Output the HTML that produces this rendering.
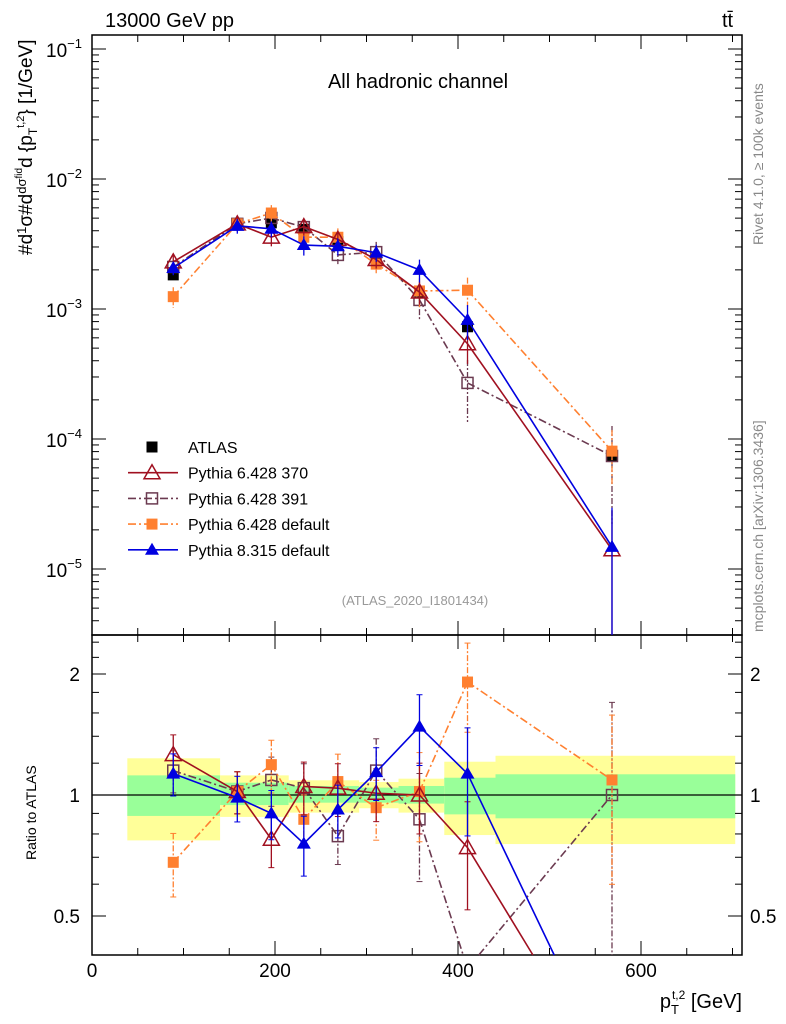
<!DOCTYPE html>
<html style="overflow:hidden;width:786px;height:1024px"><head><meta charset="utf-8"><style>
body{margin:0;background:#fff;width:786px;height:1024px;overflow:hidden}
svg{display:block;font-family:"Liberation Sans",sans-serif;overflow:hidden}
</style></head><body>
<svg id="c" width="786" height="1024" viewBox="0 0 786 1024" xmlns="http://www.w3.org/2000/svg">
<text x="105" y="27" font-size="20">13000 GeV pp</text>
<text x="722" y="27" font-size="20">tt̄</text>
<text x="418" y="88" font-size="20" text-anchor="middle">All hadronic channel</text>
<text x="415" y="605" font-size="13" fill="#999" text-anchor="middle">(ATLAS_2020_I1801434)</text>
<text transform="translate(763,245) rotate(-90)" font-size="14" fill="#888">Rivet 4.1.0, ≥ 100k events</text>
<text transform="translate(763,632) rotate(-90)" font-size="14" fill="#888">mcplots.cern.ch [arXiv:1306.3436]</text>
<text transform="translate(32,255) rotate(-90)" font-size="19">#d<tspan font-size="13" dy="-6">1</tspan><tspan dy="6">σ</tspan>#d<tspan font-size="13" dy="-6">dσ<tspan font-size="10" dy="-4">fid</tspan></tspan><tspan dy="10">d {p</tspan><tspan font-size="12" dy="5">T</tspan><tspan font-size="11" dy="-13">t,2</tspan><tspan dy="8">} [1/GeV]</tspan></text>
<text transform="translate(36,860) rotate(-90)" font-size="14">Ratio to ATLAS</text>
<text x="742" y="1008" font-size="20" text-anchor="end">p<tspan font-size="13" dy="6">T</tspan><tspan font-size="12" dy="-15" dx="-7">t,2</tspan><tspan dy="9"> [GeV]</tspan></text>
<g id="g"></g>
</svg>
<script>
const xC=[88.8,158.8,196,231.5,268.7,310.6,357.9,410.4,568.3];
const atlas=[1.83e-3,4.43e-3,4.6e-3,4.1e-3,3.3e-3,2.38e-3,1.35e-3,7.3e-4,7.4e-5];
const rP8=[1.13,0.985,0.90,0.757,0.92,1.14,1.48,1.13,0.2];
const eP8=[0.12,0.13,0.14,0.17,0.15,0.15,0.2,0.3,1.0];
const r370=[1.26,1.02,0.776,1.05,1.04,1.01,1.0,0.74,0.19];
const e370=[0.12,0.12,0.15,0.15,0.15,0.15,0.2,0.3,1.0];
const r391=[1.15,1.02,1.09,1.04,0.79,1.15,0.87,0.37,1.0];
const e391=[0.12,0.12,0.14,0.15,0.15,0.2,0.3,0.5,0.7];
const rDef=[0.68,1.02,1.19,0.87,1.08,0.93,1.02,1.91,1.09];
const eDef=[0.18,0.12,0.15,0.15,0.17,0.17,0.25,0.25,0.45];
const binEdges=[38.6,140,215,292,335,385,441,703];
const yelLo=[0.771,0.882,0.904,0.927,0.904,0.795,0.755];
const yelHi=[1.234,1.119,1.088,1.077,1.098,1.21,1.252];
const grnLo=[0.887,0.944,0.957,0.957,0.952,0.895,0.875];
const grnHi=[1.119,1.073,1.053,1.043,1.053,1.104,1.126];
const xTicks=[0,200,400,600];
const mainTicks=[-1,-2,-3,-4,-5];
const ratioTicks=[0.5,1,2];

const NS="http://www.w3.org/2000/svg",G=document.getElementById('g');
const X=v=>92+v*0.915;
const YM=v=>49+(-1-Math.log10(v))*130;
const YR=v=>795-Math.log2(v)*121;
const MT=35,MB=635,RT=635,RB=955;
function el(t,a,p){const e=document.createElementNS(NS,t);for(const k in a)e.setAttribute(k,a[k]);(p||G).appendChild(e);return e;}
function clamp(v,a,b){return Math.max(a,Math.min(b,v));}
// clip segment to y range
function clipSeg(x1,y1,x2,y2,top,bot){
 if((y1<top&&y2<top)||(y1>bot&&y2>bot))return null;
 const f=(y)=>x1+(x2-x1)*(y-y1)/(y2-y1);
 if(y1<top){x1=f(top);y1=top;}else if(y1>bot){x1=f(bot);y1=bot;}
 if(y2<top){x2=x1+(x2-x1)*(top-y1)/(y2-y1);y2=top;}else if(y2>bot){x2=x1+(x2-x1)*(bot-y1)/(y2-y1);y2=bot;}
 return [x1,y1,x2,y2];
}
for(let i=0;i<yelLo.length;i++){
 const b1=el('rect',{x:X(binEdges[i]),y:YR(yelHi[i]),width:X(binEdges[i+1])-X(binEdges[i]),height:YR(yelLo[i])-YR(yelHi[i]),fill:'#ffff99'});
 
 
 const b2=el('rect',{x:X(binEdges[i]),y:YR(grnHi[i]),width:X(binEdges[i+1])-X(binEdges[i]),height:YR(grnLo[i])-YR(grnHi[i]),fill:'#99ff99'});
 
 
}
el('line',{x1:92,x2:742,y1:YR(1),y2:YR(1),stroke:'#000','stroke-width':1.2});
el('rect',{x:92,y:35,width:650,height:600,fill:'none',stroke:'#000','stroke-width':1.5});
el('rect',{x:92,y:635,width:650,height:320,fill:'none',stroke:'#000','stroke-width':1.5});
for(let v=0;v<=700;v+=50){const L=v%200==0?14:7;
 for(const [y0,y1] of [[635,35],[955,635]]){el('line',{x1:X(v),x2:X(v),y1:y0,y2:y0-L,stroke:'#000'});el('line',{x1:X(v),x2:X(v),y1:y1,y2:y1+L,stroke:'#000'});}}
xTicks.forEach(v=>{const t=el('text',{x:X(v),y:977,'font-size':19,'text-anchor':'middle'});t.textContent=v;
 
 });
for(let d=-6;d<=-1;d++)for(let m=1;m<10;m++){const y=YM(m*Math.pow(10,d));if(y<35||y>635)continue;const L=m==1?14:7;
 el('line',{x1:92,x2:92+L,y1:y,y2:y,stroke:'#000'});el('line',{x1:742,x2:742-L,y1:y,y2:y,stroke:'#000'});}
mainTicks.forEach(d=>{const t=el('text',{x:82,y:YM(Math.pow(10,d))+8,'font-size':19,'text-anchor':'end'});
 t.innerHTML='10<tspan font-size="13" dy="-9">'+('−'+(-d))+'</tspan>';
 
 });
[0.5,0.6,0.7,0.8,0.9,1,1.2,1.4,1.6,1.8,2,2.2,2.4].forEach(v=>{const y=YR(v);const L=[0.5,1,2].includes(v)?14:7;
 el('line',{x1:92,x2:92+L,y1:y,y2:y,stroke:'#000'});el('line',{x1:742,x2:742-L,y1:y,y2:y,stroke:'#000'});});
ratioTicks.forEach(v=>{for(const [x,a] of [[80,'end'],[750,'start']]){const t=el('text',{x:x,y:YR(v)+7,'font-size':19,'text-anchor':a});t.textContent=v;
 
 }});
function marker(kind,x,y,col,p){
 let m;
 if(kind=='sq')m=el('rect',{x:x-5.5,y:y-5.5,width:11,height:11,fill:col},p);
 else if(kind=='osq')m=el('rect',{x:x-5.5,y:y-5.5,width:11,height:11,fill:'none',stroke:col,'stroke-width':1.5},p);
 else if(kind=='tri')m=el('polygon',{points:`${x},${y-7} ${x-7},${y+5} ${x+7},${y+5}`,fill:col},p);
 else m=el('polygon',{points:`${x},${y-8} ${x-8},${y+6} ${x+8},${y+6}`,fill:'none',stroke:col,'stroke-width':1.5},p);
 
 
}
const series=[
 {name:'pythia-6428-391',r:r391,e:e391,col:'#6b3a50',dash:'8,3,2,3',m:'osq'},
 {name:'pythia-6428-default',r:rDef,e:eDef,col:'#ff8030',dash:'8,3,2,3',m:'sq'},
 {name:'pythia-6428-370',r:r370,e:e370,col:'#a01020',dash:'',m:'otri'},
 {name:'pythia-8315-default',r:rP8,e:eP8,col:'#0000e0',dash:'',m:'tri'}];
const ga=el('g',{});


atlas.forEach((v,i)=>{el('line',{x1:X(xC[i]),x2:X(xC[i]),y1:YM(v*1.05),y2:YM(v*0.95),stroke:'#000'},ga);marker('sq',X(xC[i]),YM(v),'#000',ga);});
function drawLine(xs,ys,top,bot,col,dash,p){
 for(let i=0;i<xs.length-1;i++){
  const c=clipSeg(xs[i],ys[i],xs[i+1],ys[i+1],top,bot);
  if(c)el('line',{x1:c[0],y1:c[1],x2:c[2],y2:c[3],stroke:col,'stroke-width':1.6,'stroke-dasharray':dash},p);
 }
}
series.forEach(s=>{
 const gm=el('g',{});
 
 
 const gr=el('g',{});
 
 
 const xs=xC.map(X);
 drawLine(xs,xC.map((x,i)=>YM(atlas[i]*s.r[i])),MT,MB,s.col,s.dash,gm);
 drawLine(xs,xC.map((x,i)=>YR(s.r[i])),RT,RB,s.col,s.dash,gr);
 const ed=s.dash?'6,2,2,2':'';
 xC.forEach((x,i)=>{
  const v=atlas[i]*s.r[i],e=s.e[i],px=X(x);
  const m1=clamp(YM(v*(1+e)),MT,MB),m2=clamp(YM(Math.max(v*(1-e),1e-9)),MT,MB);
  el('line',{x1:px,x2:px,y1:m1,y2:m2,stroke:s.col,'stroke-width':1.3,'stroke-dasharray':ed},gm);
  const ry=YR(s.r[i]);
  if(ry>=RT&&ry<=RB){
   const r1=clamp(YR(s.r[i]*(1+e)),RT,RB),r2=clamp(YR(Math.max(s.r[i]*(1-e),1e-3)),RT,RB);
   el('line',{x1:px,x2:px,y1:r1,y2:r2,stroke:s.col,'stroke-width':1.3,'stroke-dasharray':ed},gr);
   [r1,r2].forEach(y=>{if(y>RT&&y<RB)el('line',{x1:px-3,x2:px+3,y1:y,y2:y,stroke:s.col},gr);});
   marker(s.m,px,ry,s.col,gr);
  }
  const my=YM(v);if(my>=MT&&my<=MB)marker(s.m,px,my,s.col,gm);
 });
});
const leg=[['ATLAS','#000','','sq'],['Pythia 6.428 370','#a01020','','otri'],['Pythia 6.428 391','#6b3a50','8,3,2,3','osq'],['Pythia 6.428 default','#ff8030','8,3,2,3','sq'],['Pythia 8.315 default','#0000e0','','tri']];
leg.forEach((l,i)=>{const y=447+i*25.7;const g=el('g',{});
 
 
 if(i>0)el('line',{x1:128,x2:178,y1:y,y2:y,stroke:l[1],'stroke-width':1.6,'stroke-dasharray':l[2]},g);
 marker(l[3],152,y,l[1],g);
 const t=el('text',{x:188,y:y+6,'font-size':16},g);t.textContent=l[0];});
</script>
</body></html>
